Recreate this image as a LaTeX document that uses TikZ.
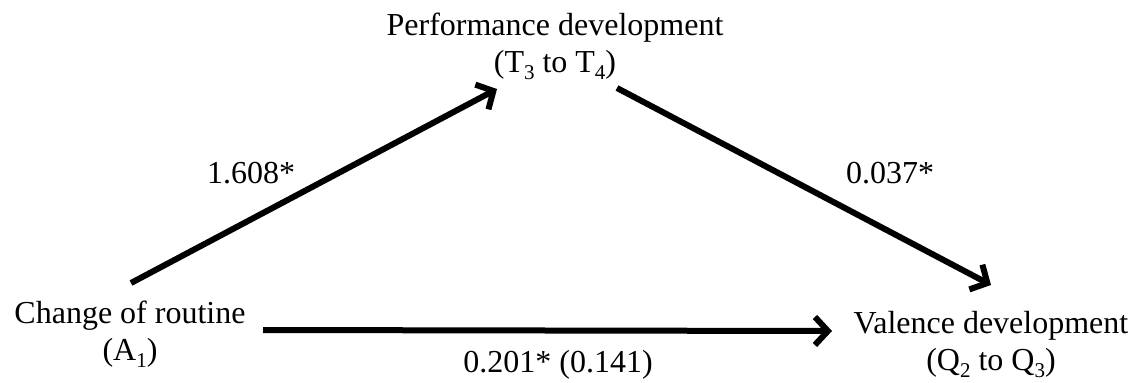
\documentclass[tikz,border=0pt]{standalone}
\usepackage{fontspec}
\setmainfont{Liberation Serif}
\usetikzlibrary{arrows.meta,calc}
\newcommand\mysub[1]{\raisebox{-7pt}{\fontsize{21}{21}\selectfont #1}}
\begin{document}
\begin{tikzpicture}[x=1pt,y=-1pt,
  lbl/.style={inner sep=0pt,align=center,font=\fontsize{32}{37}\selectfont},
  coef/.style={inner sep=0pt,anchor=base,font=\fontsize{32}{37}\selectfont},
  arr/.style={line width=6pt,-{Straight Barb[length=13pt,width=28pt]}}]
\useasboundingbox (0,0) rectangle (1141,383);
\node[lbl] (perf) at (555,46) {Performance development\\(T\mysub{3} to T\mysub{4})};
\node[lbl] (chg) at (130,334) {Change of routine\\(A\mysub{1})};
\node[lbl] (val) at (991,344) {Valence development\\(Q\mysub{2} to Q\mysub{3})};
\node[coef] (c1) at (251,183) {1.608*};
\node[coef] (c2) at (890,183) {0.037*};
\node[coef] (c3) at (558,372) {0.201* (0.141)};
\draw[arr] ($(chg.center)+(1,-51)$) -- ($(perf.center)+(-58,43)$);
\draw[arr] ($(perf.center)+(62,42)$) -- ($(val.center)+(0,-59)$);
\draw[arr] ($(chg.center)+(133,-4)$) -- ($(val.center)+(-159,-13)$);
\end{tikzpicture}
\end{document}
